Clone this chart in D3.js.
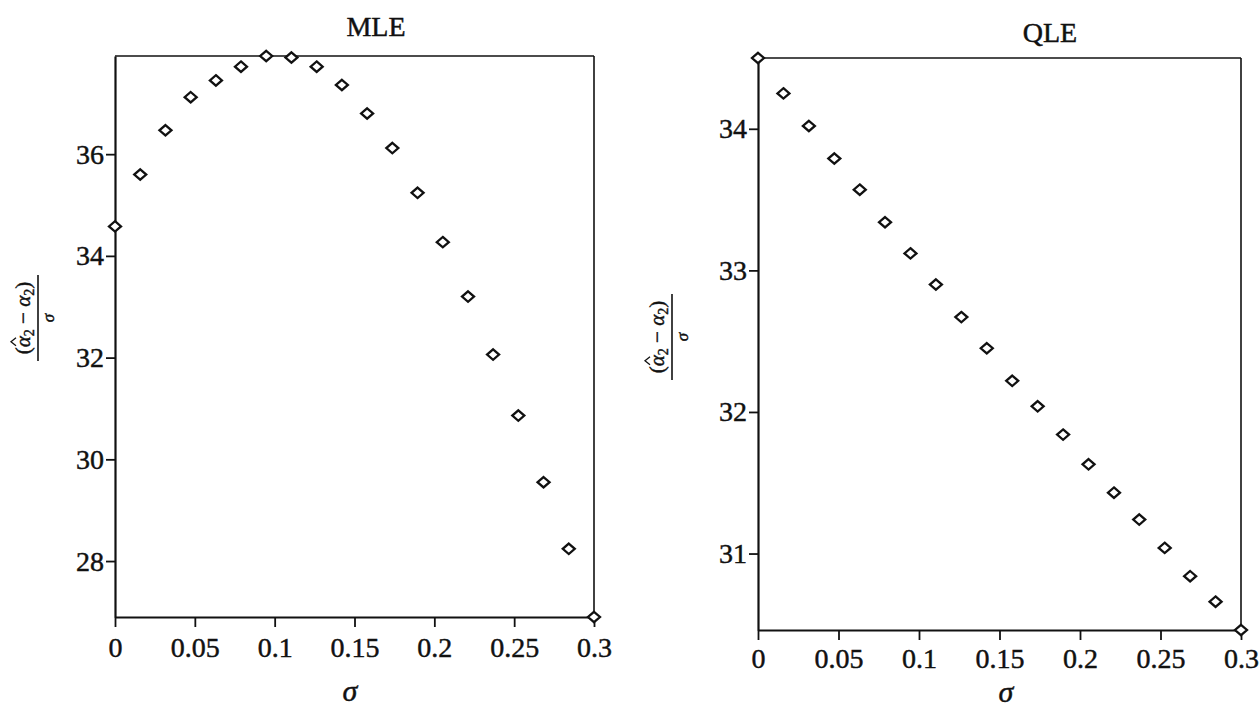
<!DOCTYPE html>
<html><head><meta charset="utf-8">
<script src="https://cdn.jsdelivr.net/npm/d3@7/dist/d3.min.js"></script>
<style>
html,body{margin:0;padding:0;background:#fff;}
svg{display:block;}
text{font-family:"Liberation Serif","DejaVu Serif",serif;fill:#111;stroke:#111;stroke-width:0.45px;}
</style></head>
<body>
<svg id="chart" width="1259" height="709"></svg>
<script>
// ---- data ----
const sigmaValues = [0, 0.0158, 0.0316, 0.0474, 0.0632, 0.0789, 0.0947, 0.1105, 0.1263, 0.1421,
                     0.1579, 0.1737, 0.1895, 0.2053, 0.2211, 0.2368, 0.2526, 0.2684, 0.2842, 0.3];
const mleValues = [34.58, 35.6, 36.47, 37.12, 37.45, 37.72, 37.93, 37.9, 37.72, 37.36,
                   36.8, 36.12, 35.24, 34.27, 33.2, 32.06, 30.86, 29.55, 28.24, 26.9];
const qleValues = [34.5, 34.25, 34.02, 33.79, 33.57, 33.34, 33.12, 32.9, 32.67, 32.45,
                   32.22, 32.04, 31.84, 31.63, 31.43, 31.24, 31.04, 30.84, 30.66, 30.46];
const xTicks = [0, 0.05, 0.1, 0.15, 0.2, 0.25, 0.3];
const xTickLabels = ["0", "0.05", "0.1", "0.15", "0.2", "0.25", "0.3"];
const mleYTicks = [28, 30, 32, 34, 36];
const qleYTicks = [31, 32, 33, 34];
const titles = ["MLE", "QLE"];

const svg = d3.select("#chart");
const FONT = '"Liberation Serif","DejaVu Serif",serif';

const panels = [
  {title: titles[0], values: mleValues, yTicks: mleYTicks,
   x0: 115, x1: 594, yTop: 56, yBot: 617, titleX: 376, titleY: 36, pad: 10,
   sigX: 350, sigY: 701, labX: 38, labY: 318},
  {title: titles[1], values: qleValues, yTicks: qleYTicks,
   x0: 758, x1: 1241, yTop: 58, yBot: 630, titleX: 1050, titleY: 42, pad: 8,
   sigX: 1006, sigY: 702, labX: 672, labY: 337}
];

panels.forEach(p => {
  const x = d3.scaleLinear().domain([0, 0.3]).range([p.x0, p.x1]);
  const ext = d3.extent(p.values);
  const y = d3.scaleLinear().domain(ext).range([p.yBot, p.yTop]);

  const g = svg.append("g");

  // frame (top & right)
  g.append("line").attr("x1", p.x0).attr("x2", p.x1).attr("y1", p.yTop).attr("y2", p.yTop)
    .attr("stroke", "#111").attr("stroke-width", 1.6);
  g.append("line").attr("x1", p.x1).attr("x2", p.x1).attr("y1", p.yTop).attr("y2", p.yBot)
    .attr("stroke", "#111").attr("stroke-width", 1.6);

  // x axis
  const xa = g.append("g").attr("transform", `translate(0,${p.yBot})`)
    .call(d3.axisBottom(x).tickValues(xTicks)
      .tickFormat((d, i) => xTickLabels[i]).tickSize(10).tickSizeOuter(0).tickPadding(p.pad));
  xa.select(".domain").attr("stroke", "#111").attr("stroke-width", 2.2);
  xa.selectAll(".tick line").attr("stroke", "#111").attr("stroke-width", 1.8);
  xa.selectAll(".tick text").attr("font-size", 28).attr("fill", "#111")
    .style("font-family", FONT);

  // y axis
  const ya = g.append("g").attr("transform", `translate(${p.x0},0)`)
    .call(d3.axisLeft(y).tickValues(p.yTicks).tickFormat(d3.format("d"))
      .tickSize(9).tickSizeOuter(0).tickPadding(2));
  ya.select(".domain").attr("stroke", "#111").attr("stroke-width", 2.2);
  ya.selectAll(".tick line").attr("stroke", "#111").attr("stroke-width", 1.8);
  ya.selectAll(".tick text").attr("font-size", 28).attr("fill", "#111")
    .style("font-family", FONT);

  // points (diamonds)
  const diamond = "M0,-5.2L6,0L0,5.2L-6,0Z";
  g.selectAll("path.pt").data(p.values).enter().append("path")
    .attr("class", "pt")
    .attr("d", diamond)
    .attr("transform", (d, i) => `translate(${x(sigmaValues[i])},${y(d)})`)
    .attr("fill", "#fff").attr("stroke", "#111").attr("stroke-width", 2.3);

  // title
  g.append("text").attr("x", p.titleX).attr("y", p.titleY)
    .attr("text-anchor", "middle").attr("font-size", 28).text(p.title);

  // x label sigma
  g.append("text").attr("x", p.sigX).attr("y", p.sigY)
    .attr("text-anchor", "middle").attr("font-size", 30).attr("font-style", "italic").text("σ");

  // y label: fraction rotated
  const lab = g.append("g").attr("transform", `translate(${p.labX},${p.labY}) rotate(-90)`);
  const num = lab.append("text").attr("x", 0).attr("y", -8).attr("text-anchor", "middle")
    .attr("font-size", 21);
  num.append("tspan").text("(");
  num.append("tspan").attr("font-style", "italic").text("α");
  num.append("tspan").attr("font-size", 14).attr("dy", 4).text("2");
  num.append("tspan").attr("dy", -4).text(" − ");
  num.append("tspan").attr("font-style", "italic").text("α");
  num.append("tspan").attr("font-size", 14).attr("dy", 4).text("2");
  num.append("tspan").attr("dy", -4).text(")");
  // hat over first alpha
  const nn = num.node();
  const s = nn.getStartPositionOfChar(1), e = nn.getEndPositionOfChar(1);
  const cx = (s.x + e.x) / 2;
  lab.append("path")
    .attr("d", `M${cx - 4},${-22}L${cx},${-27}L${cx + 4},${-22}`)
    .attr("fill", "none").attr("stroke", "#111").attr("stroke-width", 1.3);
  lab.append("line").attr("x1", -43).attr("x2", 43).attr("y1", 0).attr("y2", 0)
    .attr("stroke", "#111").attr("stroke-width", 1.6);
  lab.append("text").attr("x", 0).attr("y", 16).attr("text-anchor", "middle")
    .attr("font-size", 17).attr("font-style", "italic").text("σ");
});
</script>
</body></html>
